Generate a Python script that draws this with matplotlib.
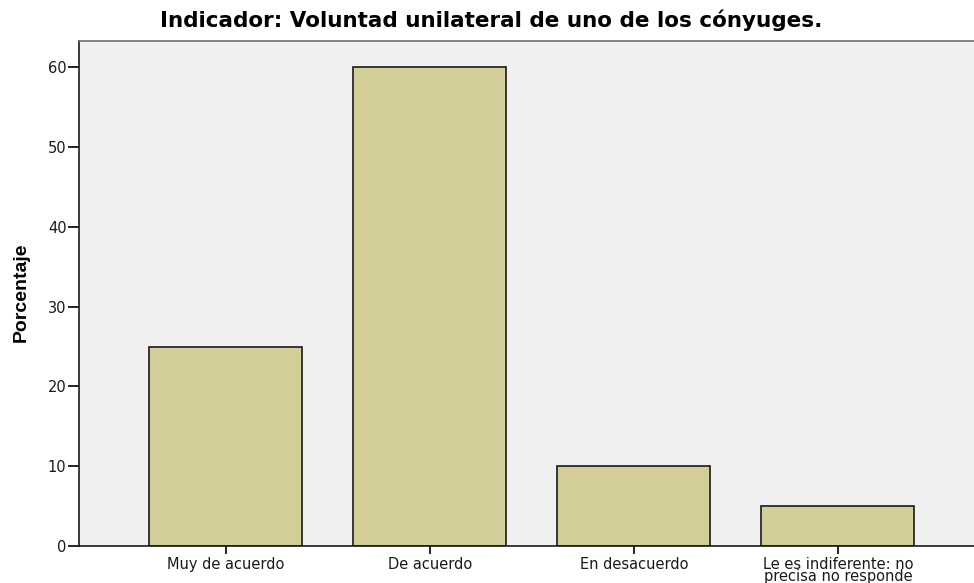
import matplotlib.pyplot as plt
import numpy as np

plt.rcParams['font.family'] = ['DejaVu Sans']

categories = ['Muy de acuerdo', 'De acuerdo', 'En desacuerdo',
              'Le es indiferente: no\nprecisa no responde']
values = [25, 60, 10, 5]
yticks = [0, 10, 20, 30, 40, 50, 60]

fig = plt.figure(figsize=(9.74, 5.83), dpi=100)
ax = fig.add_axes([79 / 974, 1 - 546 / 583, 1 - 79 / 974, (546 - 41) / 583])
ax.set_facecolor('#f0f0f0')

x = np.arange(len(categories))
ax.bar(x, values, width=0.75, color='#d3ce97', edgecolor='#1a1a1a', linewidth=1.2)

ax.set_xlim(-0.72, 3.667)
ax.set_ylim(0, 63.3)
ax.set_yticks(yticks)
ax.set_xticks(x)
ax.set_xticklabels(categories, fontsize=10.5, linespacing=0.75, color='#1a1a1a')
ax.tick_params(axis='y', labelsize=10.5, length=8, width=1.2, pad=1, labelcolor='#1a1a1a')
ax.tick_params(axis='x', length=6, width=1.2, pad=2)

for s in ['left', 'bottom', 'top']:
    ax.spines[s].set_linewidth(1.2)
ax.spines['top'].set_color('#707070')
ax.spines['left'].set_color('#1a1a1a')
ax.spines['bottom'].set_color('#1a1a1a')
ax.spines['right'].set_visible(False)

fig.text(21 / 974, 1 - 292 / 583, 'Porcentaje', rotation=90, ha='center', va='center',
         fontsize=14, fontweight='bold', family=['Liberation Sans Narrow', 'Liberation Sans'])
fig.text(491 / 974, 1 - 20 / 583, 'Indicador: Voluntad unilateral de uno de los cónyuges.',
         ha='center', va='center', fontsize=15.5, fontweight='bold')

fig.savefig('out.png', dpi=100)
